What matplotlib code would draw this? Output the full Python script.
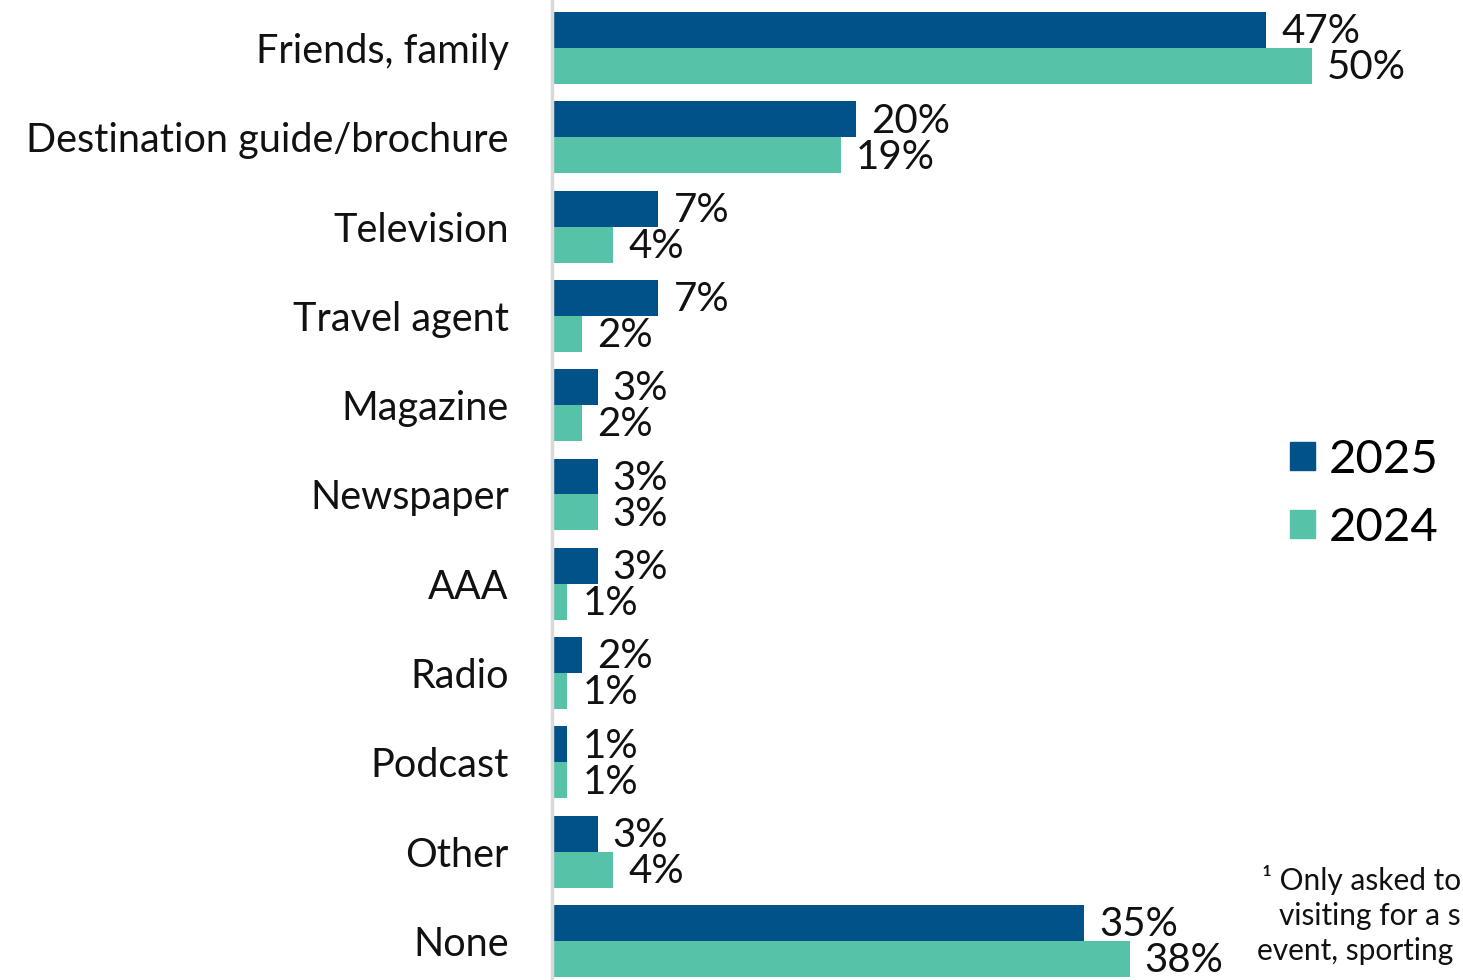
import matplotlib
matplotlib.use("Agg")
import matplotlib.pyplot as plt
from matplotlib.patches import Patch

categories = ["Friends, family", "Destination guide/brochure", "Television", "Travel agent",
              "Magazine", "Newspaper", "AAA", "Radio", "Podcast", "Other", "None"]
values_2025 = [47, 20, 7, 7, 3, 3, 3, 2, 1, 3, 35]
values_2024 = [50, 19, 4, 2, 2, 3, 1, 1, 1, 4, 38]
series_names = ["2025", "2024"]
colors = ["#02528A", "#56C2A7"]
footnote_lines = ["\u00b9 Only asked to", "visiting for a s", "event, sporting"]

plt.rcParams['font.family'] = ['Lato', 'DejaVu Sans']

W, H = 1463, 980
fig = plt.figure(figsize=(W / 100, H / 100), dpi=100)
left_px = 552
scale = 15.2  # px per percent
ax = fig.add_axes([left_px / W, 0, (W - left_px) / W, 1])
ax.set_xlim(0, (W - left_px) / scale)
a, b = 48, 89.3
ax.set_ylim((H - a) / b, -a / b)

bh = 0.403
ys = list(range(len(categories)))
ax.barh([y - bh / 2 for y in ys], values_2025, height=bh, color=colors[0], label=series_names[0])
ax.barh([y + bh / 2 for y in ys], values_2024, height=bh, color=colors[1], label=series_names[1])

for y, v in zip(ys, values_2025):
    ax.text(v + 1.0, y - bh / 2 + 0.02, f"{v}%", va="center", ha="left", fontsize=29, color="#111111")
for y, v in zip(ys, values_2024):
    ax.text(v + 1.0, y + bh / 2 + 0.02, f"{v}%", va="center", ha="left", fontsize=29, color="#111111")

ax.set_yticks(ys)
ax.set_yticklabels(categories, fontsize=28.5, color="#111111")
ax.tick_params(axis="y", length=0, pad=31)
ax.set_xticks([])
for s in ["top", "right", "bottom"]:
    ax.spines[s].set_visible(False)
ax.spines["left"].set_color("#d9d9d9")
ax.spines["left"].set_linewidth(2.5)

handles = [Patch(color=colors[0]), Patch(color=colors[1])]
fig.legend(handles, series_names, loc="center left", bbox_to_anchor=(1266 / W, 1 - 494 / H),
           frameon=False, fontsize=34, handlelength=0.53, handleheight=0.53,
           handletextpad=0.3, labelspacing=0.55, borderpad=0)

rights = [1461, 1461, 1453]
tops = [880, 916, 951]
for r, t, line in zip(rights, tops, footnote_lines):
    fig.text(r / W, 1 - t / H, line, ha="right", va="center", fontsize=21.5, color="#111111")

fig.savefig("out.png", dpi=100)
